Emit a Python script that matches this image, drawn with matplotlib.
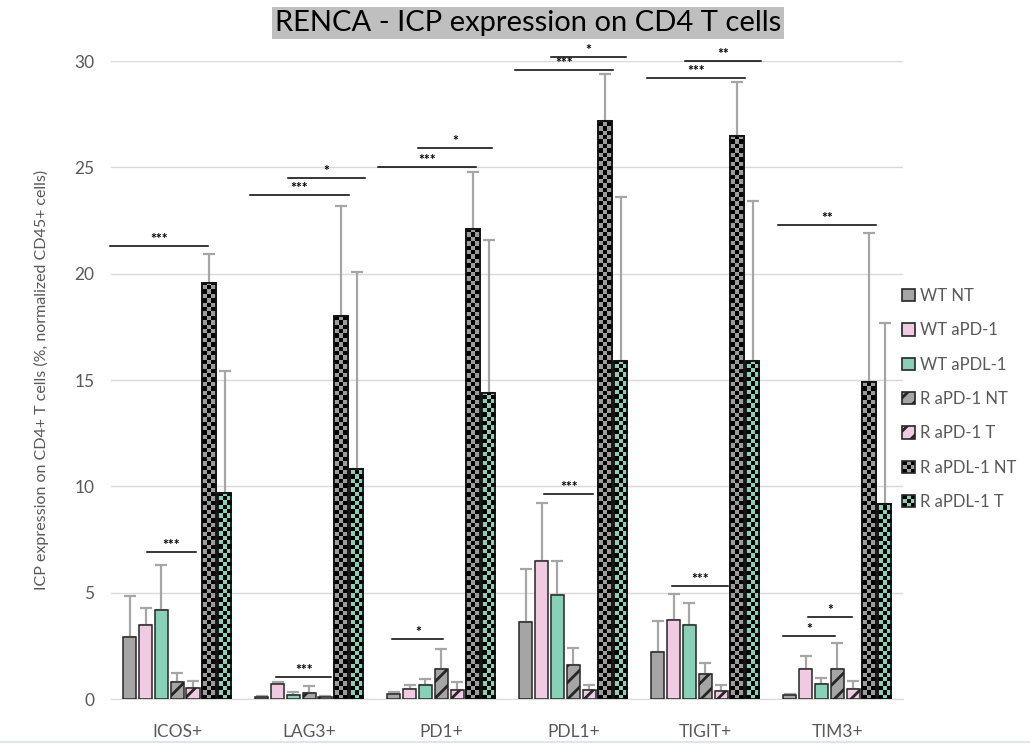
import numpy as np
import matplotlib
matplotlib.use("Agg")
import matplotlib.pyplot as plt
from matplotlib.patches import Rectangle, Patch
from matplotlib.legend_handler import HandlerBase
from matplotlib.lines import Line2D

plt.rcParams['font.family'] = ['Lato', 'DejaVu Sans']
plt.rcParams['hatch.linewidth'] = 2.0

markers = ['ICOS+', 'LAG3+', 'PD1+', 'PDL1+', 'TIGIT+', 'TIM3+']
groups = ['WT NT', 'WT aPD-1', 'WT aPDL-1', 'R aPD-1 NT', 'R aPD-1 T',
          'R aPDL-1 NT', 'R aPDL-1 T']

# mean values, one list per group (order follows markers)
wt_nt = [2.9, 0.08, 0.23, 3.6, 2.2, 0.2]
wt_apd1 = [3.5, 0.7, 0.47, 6.5, 3.72, 1.41]
wt_apdl1 = [4.2, 0.2, 0.66, 4.87, 3.48, 0.7]
r_apd1_nt = [0.8, 0.3, 1.43, 1.6, 1.17, 1.41]
r_apd1_t = [0.5, 0.08, 0.44, 0.42, 0.36, 0.47]
r_apdl1_nt = [19.55, 18.0, 22.1, 27.2, 26.5, 14.9]
r_apdl1_t = [9.7, 10.8, 14.4, 15.9, 15.9, 9.17]

# top of the (upper-only) error bars
wt_nt_err = [4.85, 0.12, 0.35, 6.1, 3.66, 0.23]
wt_apd1_err = [4.3, 0.8, 0.66, 9.2, 4.93, 2.04]
wt_apdl1_err = [6.3, 0.34, 0.93, 6.5, 4.53, 0.99]
r_apd1_nt_err = [1.2, 0.62, 2.36, 2.4, 1.71, 2.62]
r_apd1_t_err = [0.85, 0.12, 0.79, 0.66, 0.66, 0.86]
r_apdl1_nt_err = [20.95, 23.2, 24.8, 29.4, 29.0, 21.9]
r_apdl1_t_err = [15.45, 20.1, 21.6, 23.6, 23.4, 17.7]

# significance brackets: marker index, start offset, end offset, height, label
sig_marker = [0, 0, 1, 1, 1, 2, 2, 2, 3, 3, 3, 4, 4, 4, 5, 5, 5]
sig_x0 = [-0.51, -0.23, -0.45, -0.16, -0.25, -0.48, -0.18, -0.37, -0.44, -0.17,
          -0.22, -0.44, -0.15, -0.25, -0.45, -0.22, -0.41]
sig_x1 = [0.235, 0.145, 0.30, 0.42, 0.165, 0.265, 0.385, 0.015, 0.30, 0.40,
          0.15, 0.30, 0.42, 0.175, 0.29, 0.11, -0.015]
sig_y = [21.3, 6.9, 23.7, 24.5, 1.05, 25.0, 25.9, 2.8, 29.6, 30.2, 9.65, 29.2,
         30.0, 5.3, 22.3, 3.87, 2.98]
sig_label = ['***', '***', '***', '*', '***', '***', '*', '*', '***', '*', '***',
             '***', '**', '***', '**', '*', '*']

values = [wt_nt, wt_apd1, wt_apdl1, r_apd1_nt, r_apd1_t, r_apdl1_nt, r_apdl1_t]
err_top = [wt_nt_err, wt_apd1_err, wt_apdl1_err, r_apd1_nt_err, r_apd1_t_err,
           r_apdl1_nt_err, r_apdl1_t_err]

GREY = '#a5a5a5'
PINK = '#efcae0'
GREEN = '#88d0b7'
CHK_GREY = '#9c9c9c'
styles = [
    dict(color=GREY, hatch=None, checker=False),
    dict(color=PINK, hatch=None, checker=False),
    dict(color=GREEN, hatch=None, checker=False),
    dict(color=GREY, hatch='//', checker=False),
    dict(color=PINK, hatch='//', checker=False),
    dict(color=CHK_GREY, hatch=None, checker=True),
    dict(color=GREEN, hatch=None, checker=True),
]
TXT = '#595959'

fig = plt.figure(figsize=(10.3, 7.46), dpi=100)
ax = fig.add_axes([0.108, 0.063, 0.769, 0.855])

x = np.arange(len(markers))
pitch = 0.12
width = 0.1
cell_y = 0.207  # data units of one checker square


def checker_image(color, nrows, ncols=3):
    rgb = np.array(matplotlib.colors.to_rgb(color))
    img = np.zeros((nrows, ncols, 3))
    for r in range(nrows):
        for c in range(ncols):
            img[r, c] = rgb if (r + c) % 2 else (0, 0, 0)
    return img


for j, (vals, tops, st) in enumerate(zip(values, err_top, styles)):
    pos = x + (j - 3) * pitch
    bars = ax.bar(pos, vals, width, color=st['color'], edgecolor='#262626',
                  linewidth=1.1, hatch=st['hatch'], zorder=3)
    if st['checker']:
        for b, v in zip(bars, vals):
            nrows = int(np.ceil(v / cell_y))
            im = ax.imshow(checker_image(st['color'], nrows), origin='lower',
                           extent=(b.get_x(), b.get_x() + width, 0, nrows * cell_y),
                           aspect='auto', interpolation='nearest', zorder=3.5)
            im.set_clip_path(b)
        ax.bar(pos, vals, width, fill=False, edgecolor='#111111',
               linewidth=1.3, zorder=4)
    up = np.array(tops) - np.array(vals)
    ax.errorbar(pos, vals, yerr=[np.zeros_like(up), up], fmt='none',
                ecolor='#a6a6a6', elinewidth=1.6, capsize=4, capthick=1.6,
                zorder=2)

# significance lines
for m, a, b, yv, lab in zip(sig_marker, sig_x0, sig_x1, sig_y, sig_label):
    ax.plot([m + a, m + b], [yv, yv], color='black', lw=1.1, clip_on=False,
            zorder=5)
    ax.text(m + (a + b) / 2, yv + 0.05, lab, ha='center', va='bottom',
            fontsize=10, fontweight='bold', color='black', clip_on=False)

ax.set_xlim(-0.5, len(markers) - 0.5)
ax.set_ylim(0, 30)
ax.set_yticks(range(0, 31, 5))
ax.set_xticks(x)
ax.set_xticklabels(markers)
ax.tick_params(axis='both', length=0, colors=TXT, labelsize=12.5)
ax.tick_params(axis='x', pad=18)
ax.tick_params(axis='y', pad=12)
ax.yaxis.grid(True, color='#d9d9d9', lw=1)
ax.set_axisbelow(True)
for s in ['top', 'right', 'left']:
    ax.spines[s].set_visible(False)
ax.spines['bottom'].set_color('#d9d9d9')
ax.set_ylabel('ICP expression on CD4+ T cells (%, normalized CD45+ cells)',
              color=TXT, fontsize=11.5)
ax.yaxis.set_label_coords(-0.078, 0.5)


class CheckerHandler(HandlerBase):
    def __init__(self, color):
        super().__init__()
        self.color = color

    def create_artists(self, legend, orig_handle, xdescent, ydescent, width,
                       height, fontsize, trans):
        arts = []
        n = 3
        for r in range(n):
            for c in range(n):
                fc = self.color if (r + c) % 2 else 'black'
                arts.append(Rectangle((-xdescent + c * width / n,
                                       -ydescent + r * height / n),
                                      width / n, height / n, facecolor=fc,
                                      edgecolor='none', transform=trans))
        arts.append(Rectangle((-xdescent, -ydescent), width, height,
                              fill=False, edgecolor='#262626', lw=1.2,
                              transform=trans))
        return arts


handles = []
hmap = {}
for st, name in zip(styles, groups):
    h = Patch(facecolor=st['color'], edgecolor='#262626', hatch=st['hatch'],
              label=name, linewidth=1.2)
    if st['checker']:
        hmap[h] = CheckerHandler(st['color'])
    handles.append(h)

fig.legend(handles=handles, handler_map=hmap, loc='center left',
           bbox_to_anchor=(894 / 1030, 1 - 399 / 746), frameon=False,
           fontsize=12, labelcolor=TXT, handlelength=0.75, handleheight=0.75,
           handletextpad=0.3, labelspacing=1.1, borderpad=0)

fig.text(528 / 1030, 1 - 23 / 746, 'RENCA - ICP expression on CD4 T cells',
         ha='center', va='center', fontsize=21, color='black',
         bbox=dict(facecolor='#bfbfbf', edgecolor='none', pad=2))

fig.add_artist(Line2D([0, 1], [0.006, 0.006], color='#dde6f0', lw=1.5))

fig.savefig('out.png', dpi=100)
